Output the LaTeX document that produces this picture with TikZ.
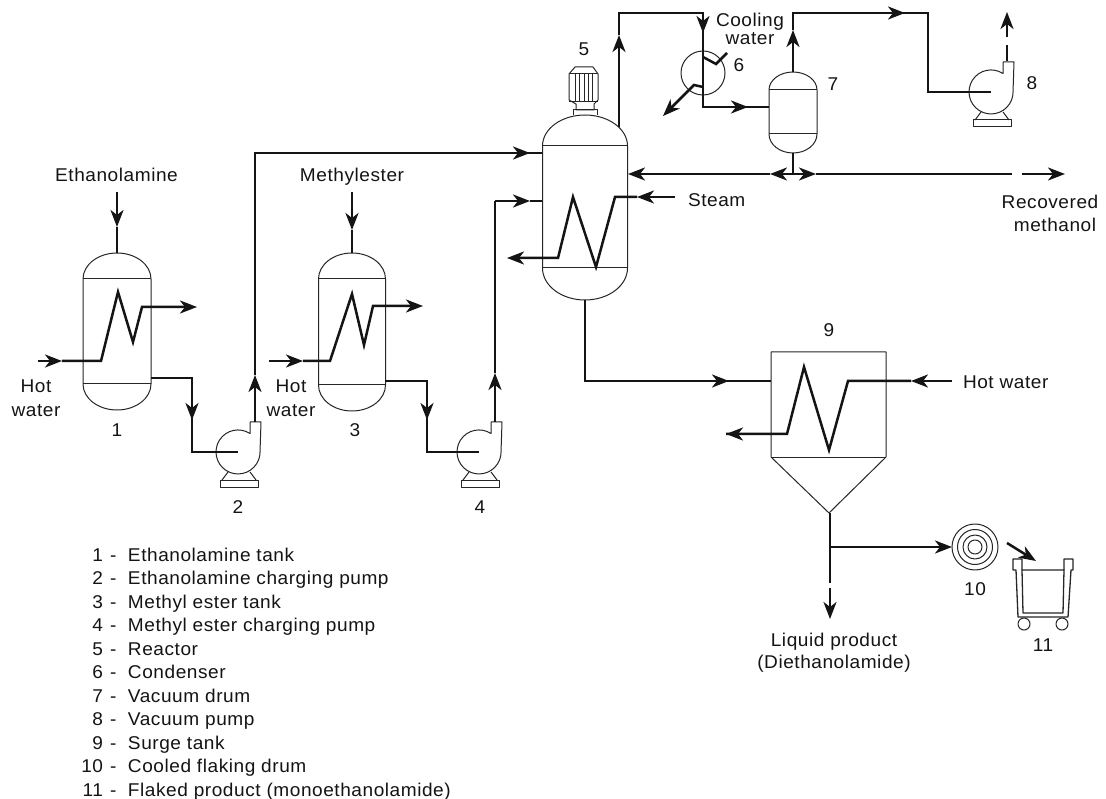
\documentclass[tikz,border=0pt]{standalone}
\usepackage{fontspec}
\setmainfont{Liberation Sans}[LetterSpace=3,FakeStretch=1.03]
\usetikzlibrary{arrows.meta}
\tikzset{
  pipe/.style={line width=2.5pt,line join=miter,black!92},
  flow/.style={pipe,-{Stealth[length=17pt,width=13pt,inset=5pt]}},
  equip/.style={line width=1pt,black!85,line join=round},
  lbl/.style={inner sep=0pt,outer sep=0pt,font=\fontsize{18.5}{22}\selectfont,text=black!92},
  lblb/.style={lbl,anchor=base},
}
% vessel: centre x, half width, top apex, top line, bottom line, bottom apex
\newcommand{\vesselshape}[6]{%
  \pgfmathsetmacro{\vl}{#1-#2}\pgfmathsetmacro{\vr}{#1+#2}%
  \pgfmathsetmacro{\kx}{0.5523*#2}%
  \pgfmathsetmacro{\kt}{0.5523*(#4-#3)}\pgfmathsetmacro{\kb}{0.5523*(#6-#5)}%
  \draw[equip] (\vl,#4) .. controls (\vl,#4-\kt) and (#1-\kx,#3) .. (#1,#3)
     .. controls (#1+\kx,#3) and (\vr,#4-\kt) .. (\vr,#4) -- (\vr,#5)
     .. controls (\vr,#5+\kb) and (#1+\kx,#6) .. (#1,#6)
     .. controls (#1-\kx,#6) and (\vl,#5+\kb) .. (\vl,#5) -- cycle;
  \draw[equip] (\vl,#4) -- (\vr,#4) (\vl,#5) -- (\vr,#5);
}
% pump: centre x, centre y
\newcommand{\pumpshape}[2]{%
  \draw[equip] (#1+12,#2-30) -- (#1+12,#2-18.5)
     arc[start angle=57,end angle=360,radius=22pt] -- (#1+23,#2-30) -- cycle;
  \draw[equip] (#1-10,#2+20) -- (#1-16,#2+28) (#1+12,#2+20) -- (#1+18,#2+28);
  \draw[equip] (#1-18,#2+28) rectangle (#1+20,#2+35);
}
\begin{document}
\begin{tikzpicture}[x=1pt,y=-1pt]
\useasboundingbox (0,0) rectangle (1106,799);
\fill[white] (0,0) rectangle (1106,799);

% ---- equipment ----
\vesselshape{117}{34}{253}{279}{384}{410}
\vesselshape{352}{33.5}{253}{279}{385}{411}
\vesselshape{585}{42.5}{115}{146}{268}{300}
\vesselshape{793}{24}{72}{90}{134}{153}
\pumpshape{238}{452}
\pumpshape{479}{452}
\pumpshape{991}{92}
% motor
\draw[equip] (575,67) -- (593,67) -- (598,74) -- (598,100) -- (594,104) -- (594,110)
   -- (576,110) -- (576,104) -- (569,100) -- (569,74) -- cycle;
\draw[equip] (569,74) -- (598,74) (569,102) -- (598,102);
\draw[equip] (575,74) -- (575,102) (579,74) -- (579,102) (584,74) -- (584,102) (588,74) -- (588,102) (592,74) -- (592,102);
\draw[equip] (573,115) -- (573,110) -- (597,110) -- (597,115);
% condenser
\node[circle,draw,line width=1pt,black!85,minimum size=44pt,inner sep=0pt] (cond) at (703,73) {};
% surge tank
\draw[equip] (771,352) -- (886,352) -- (886,457) -- (829,513) -- (771,457) -- cycle;
\draw[equip] (771,457) -- (886,457);
% flaking drum
\coordinate (drum) at (975,547);
\draw[equip] (drum) circle[radius=23pt] (drum) circle[radius=17.5pt] (drum) circle[radius=12pt] (drum) circle[radius=7pt];
% cart
\draw[equip,line width=1.3pt] (1022,570) -- (1022,559) -- (1013,559) -- (1013,570) -- (1016,570) -- (1018,617) -- (1068,617) -- (1071,570) -- (1073,570) -- (1073,559) -- (1064,559) -- (1064,570);
\draw[equip,line width=1.3pt] (1022,570) -- (1064,570) -- (1063,613) -- (1023,613) -- cycle;
\node[circle,draw,line width=1pt,black!85,minimum size=12pt,inner sep=0pt] (wheelA) at (1024,624) {};
\node[circle,draw,line width=1pt,black!85,minimum size=12pt,inner sep=0pt] (wheelB) at (1062,624) {};

% ---- coordinates ----
\coordinate (eaS) at (117,192); \coordinate (eaT) at (117,227); \coordinate (eaE) at (117,253);
\coordinate (hw1S) at (38,361); \coordinate (hw1T) at (62,361);
\coordinate (hw1O) at (197,307);
\coordinate (t1out) at (151,378); \coordinate (t1b) at (192,378); \coordinate (t1T) at (192,420);
\coordinate (t1c) at (192,452); \coordinate (p2c) at (238,452);
\coordinate (p2o) at (255,422); \coordinate (p2T) at (255,375); \coordinate (p2u) at (255,153);
\coordinate (r1T) at (530,153); \coordinate (r1) at (542,153);
\coordinate (meS) at (352,192); \coordinate (meT) at (352,230); \coordinate (meE) at (352,253);
\coordinate (hw3S) at (269,361); \coordinate (hw3T) at (303,361);
\coordinate (hw3O) at (423,306);
\coordinate (t3out) at (385,381); \coordinate (t3b) at (427,381); \coordinate (t3T) at (427,420);
\coordinate (t3c) at (427,452); \coordinate (p4c) at (479,452);
\coordinate (p4o) at (495,422); \coordinate (p4T) at (495,373); \coordinate (p4u) at (495,201);
\coordinate (r2T) at (530,201); \coordinate (r2) at (542,201);
\coordinate (stS) at (675,197); \coordinate (stT) at (637,197);
\coordinate (stO) at (507,258);
\coordinate (rtop) at (619,127); \coordinate (rtT) at (619,35); \coordinate (rtu) at (619,13);
\coordinate (cnu) at (703,13); \coordinate (cnT) at (703,33); \coordinate (cnd) at (703,107);
\coordinate (v7T) at (748,107); \coordinate (v7l) at (769,107);
\coordinate (v7top) at (793,72); \coordinate (v7uT) at (793,30); \coordinate (v7u) at (793,13);
\coordinate (v7rT) at (905,13); \coordinate (v7r) at (928,13); \coordinate (v7d) at (928,92);
\coordinate (p8c) at (991,92);
\coordinate (p8o) at (1007,61); \coordinate (p8g) at (1007,45); \coordinate (p8h) at (1007,37); \coordinate (p8T) at (1007,12);
\coordinate (v7b) at (793,153); \coordinate (jn) at (793,174);
\coordinate (rrT) at (628,174); \coordinate (rlT) at (770,174);
\coordinate (reT) at (816,174); \coordinate (reE) at (1012,174);
\coordinate (reG) at (1022,174); \coordinate (recT) at (1065,174);
\coordinate (rb) at (585,300); \coordinate (rbc) at (585,381);
\coordinate (s9T) at (729,381); \coordinate (s9l) at (771,381);
\coordinate (hwS) at (952,381); \coordinate (hwT) at (911,381);
\coordinate (s9O) at (726,434);
\coordinate (apex) at (830,513); \coordinate (br) at (830,547); \coordinate (lqE) at (830,583);
\coordinate (lqG) at (830,588); \coordinate (lqT) at (830,619);
\coordinate (drT) at (952,547);
\coordinate (cartS) at (1007,543); \coordinate (cartT) at (1036,561);
\coordinate (cwO) at (663,116);

% ---- pipes ----
\draw[flow] (eaS) -- (eaT); \draw[pipe] (eaT) -- (eaE);
\draw[flow] (hw1S) -- (hw1T);
\draw[flow] (hw1T) -- (101,361) -- (118,292) -- (133,342) -- (142,307) -- (hw1O);
\draw[pipe] (t1out) -- (t1b) -- (t1T); \draw[flow] (t1b) -- (t1T);
\draw[pipe] (t1T) -- (t1c) -- (p2c);
\draw[flow] (p2o) -- (p2T);
\draw[pipe] (p2T) -- (p2u) -- (r1T); \draw[flow] (p2u) -- (r1T); \draw[pipe] (r1T) -- (r1);

\draw[flow] (meS) -- (meT); \draw[pipe] (meT) -- (meE);
\draw[flow] (hw3S) -- (hw3T);
\draw[flow] (hw3T) -- (330,361) -- (352,294) -- (364,345) -- (373,306) -- (hw3O);
\draw[pipe] (t3out) -- (t3b) -- (t3T); \draw[flow] (t3b) -- (t3T);
\draw[pipe] (t3T) -- (t3c) -- (p4c);
\draw[flow] (p4o) -- (p4T);
\draw[pipe] (p4T) -- (p4u); \draw[flow] (p4u) -- (r2T); \draw[pipe] (r2T) -- (r2);

\draw[flow] (stS) -- (stT);
\draw[flow] (stT) -- (615,197) -- (596,267) -- (573,197) -- (558,258) -- (stO);

\draw[flow] (rtop) -- (rtT);
\draw[pipe] (rtT) -- (rtu) -- (cnu) -- (cnT); \draw[flow] (cnu) -- (cnT);
\draw[pipe] (cnT) -- (cnd) -- (v7T); \draw[flow] (cnd) -- (v7T); \draw[pipe] (v7T) -- (v7l);
\draw[pipe] (727,53) -- (716,64) -- (703,57);
\draw[flow] (703,87) -- (694,85) -- (cwO);

\draw[flow] (v7top) -- (v7uT);
\draw[pipe] (v7uT) -- (v7u) -- (v7r) -- (v7d) -- (p8c); \draw[flow] (v7u) -- (v7rT);
\draw[pipe] (p8o) -- (p8g); \draw[flow] (p8h) -- (p8T);

\draw[pipe] (v7b) -- (jn);
\draw[flow] (jn) -- (rlT); \draw[flow] (rlT) -- (rrT);
\draw[flow] (jn) -- (reT); \draw[pipe] (reT) -- (reE);
\draw[flow] (reG) -- (recT);

\draw[pipe] (rb) -- (rbc) -- (s9T); \draw[flow] (rbc) -- (s9T); \draw[pipe] (s9T) -- (s9l);
\draw[flow] (hwS) -- (hwT);
\draw[pipe] (hwT) -- (848,381) -- (829,450) -- (804,367) -- (787,434) -- (s9O);
\draw[flow] (787,434) -- (s9O);

\draw[pipe] (apex) -- (lqE);
\draw[flow] (lqG) -- (lqT);
\draw[flow] (br) -- (drT);
\draw[flow] (cartS) -- (cartT);

% ---- labels ----
\node[lblb] (lEA) at (116.5,182) {Ethanolamine};
\node[lblb] (lME) at (352,182) {Methylester};
\node[lblb] (lH1a) at (36,393) {Hot};
\node[lblb] (lH1b) at (36,417) {water};
\node[lblb] (lH3a) at (291,393) {Hot};
\node[lblb] (lH3b) at (291,417) {water};
\node[lblb] (lC1) at (750,27) {Cooling};
\node[lblb] (lC2) at (750,45) {water};
\node[lbl,anchor=base west] (lST) at (688,207) {Steam};
\node[lblb] (lR1) at (1050,209) {Recovered};
\node[lblb] (lR2) at (1055,232) {methanol};
\node[lbl,anchor=base west] (lHW) at (963,389) {Hot water};
\node[lblb] (lL1) at (834,646) {Liquid product};
\node[lblb] (lL2) at (834,668) {(Diethanolamide)};
\node[lblb] (n1) at (117,437) {1};
\node[lblb] (n2) at (238,513) {2};
\node[lblb] (n3) at (355,437) {3};
\node[lblb] (n4) at (480,513) {4};
\node[lblb] (n5) at (584,56) {5};
\node[lblb] (n6) at (739,72) {6};
\node[lblb] (n7) at (833,91) {7};
\node[lblb] (n8) at (1032,90) {8};
\node[lblb] (n9) at (829,337) {9};
\node[lblb] (n10) at (975,595) {10};
\node[lblb] (n11) at (1043,651) {11};

% ---- legend ----
\foreach \n/\t [count=\i] in {1/{Ethanolamine tank},2/{Ethanolamine charging pump},3/{Methyl ester tank},4/{Methyl ester charging pump},5/{Reactor},6/{Condenser},7/{Vacuum drum},8/{Vacuum pump},9/{Surge tank},10/{Cooled flaking drum},11/{Flaked product (monoethanolamide)}}{
  \pgfmathsetmacro{\ly}{561.5+23.45*(\i-1)}
  \node[lbl,anchor=base east] (legn\i) at (103,\ly) {\n};
  \node[lbl,anchor=base west] (legt\i) at (110,\ly) {\makebox[18pt][l]{-}\t};
}
\end{tikzpicture}
\end{document}
